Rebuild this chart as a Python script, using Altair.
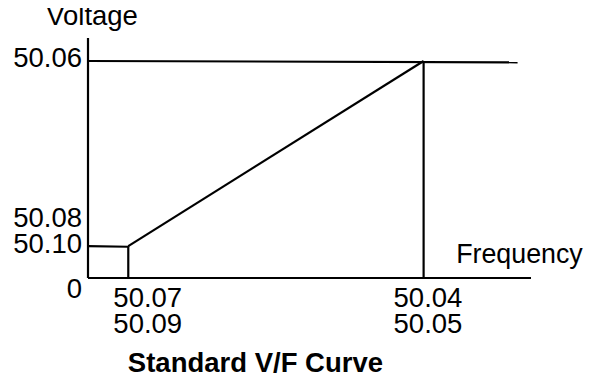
import altair as alt
import pandas as pd

# Schematic units: x = frequency position (0 = origin, 1 = 50.04 breakpoint)
#                  y = voltage position (0 = origin, 1 = 50.06 level)
x_axis_end = 1.32
y_axis_end = 1.106

# Line segments of the V/F diagram
seg_x1 = [0.0, 0.0, 0.0, 0.12, 0.12, 1.0, 0.0]
seg_y1 = [0.0, 0.0, 0.147, 0.147, 0.0, 0.0, 1.0]
seg_x2 = [0.0, x_axis_end, 0.12, 1.0, 0.12, 1.0, 1.28]
seg_y2 = [y_axis_end, 0.0, 0.144, 1.0, 0.147, 1.0, 0.994]

# Voltage tick labels
volt_labels = ["50.06", "50.08", "50.10", "0"]
volt_label_y = [0.972, 0.235, 0.115, -0.092]

# Frequency tick labels (two rows)
freq_labels = ["50.07", "50.09", "50.04", "50.05"]
freq_label_x = [0.178, 0.178, 1.013, 1.013]
freq_label_y = [-0.134, -0.253, -0.134, -0.253]

# Axis names and title
names = ["Voltage", "Frequency"]
name_x = [0.012, 1.097]
name_y = [1.166, 0.069]
name_align = ["center", "left"]
name_size = [27.5, 26.8]

title_text = "Standard V/F Curve"
title_x = 0.499
title_y = -0.433

FONT = "Liberation Sans"
FS = 27.5

xs = alt.Scale(domain=[0, x_axis_end], nice=False, zero=False)
ys = alt.Scale(domain=[0, y_axis_end], nice=False, zero=False)

segs = pd.DataFrame({"x": seg_x1, "y": seg_y1, "x2": seg_x2, "y2": seg_y2})
lines = alt.Chart(segs).mark_rule(color="black", strokeWidth=2.2).encode(
    x=alt.X("x:Q", scale=xs, axis=None),
    y=alt.Y("y:Q", scale=ys, axis=None),
    x2="x2:Q",
    y2="y2:Q",
)

vl = pd.DataFrame({"t": volt_labels, "y": volt_label_y, "x": [0.0] * len(volt_labels)})
volt = alt.Chart(vl).mark_text(align="right", baseline="alphabetic", dx=-6,
                               font=FONT, fontSize=FS, color="black").encode(
    x=alt.X("x:Q", scale=xs, axis=None),
    y=alt.Y("y:Q", scale=ys, axis=None),
    text="t:N",
)

fl = pd.DataFrame({"t": freq_labels, "x": freq_label_x, "y": freq_label_y})
freq = alt.Chart(fl).mark_text(align="center", baseline="alphabetic",
                               font=FONT, fontSize=FS, color="black").encode(
    x=alt.X("x:Q", scale=xs, axis=None),
    y=alt.Y("y:Q", scale=ys, axis=None),
    text="t:N",
)

nm = pd.DataFrame({"t": names, "x": name_x, "y": name_y})
name_charts = []
for i in range(len(names)):
    name_charts.append(
        alt.Chart(nm.iloc[[i]]).mark_text(align=name_align[i], baseline="alphabetic",
                                          font=FONT, fontSize=name_size[i],
                                          color="black").encode(
            x=alt.X("x:Q", scale=xs, axis=None),
            y=alt.Y("y:Q", scale=ys, axis=None),
            text="t:N",
        )
    )

tt = pd.DataFrame({"t": [title_text], "x": [title_x], "y": [title_y]})
title = alt.Chart(tt).mark_text(align="center", baseline="alphabetic", font=FONT,
                                fontSize=FS, fontWeight="bold", color="black").encode(
    x=alt.X("x:Q", scale=xs, axis=None),
    y=alt.Y("y:Q", scale=ys, axis=None),
    text="t:N",
)

chart = alt.layer(lines, volt, freq, *name_charts, title).properties(
    width=443,
    height=240,
    autosize=alt.AutoSizeParams(type="none"),
    padding={"left": 80, "top": 30, "right": 53, "bottom": 97},
    background="white",
).configure_view(stroke=None)

chart.save("out.html", embed_options={"renderer": "svg", "actions": False})
